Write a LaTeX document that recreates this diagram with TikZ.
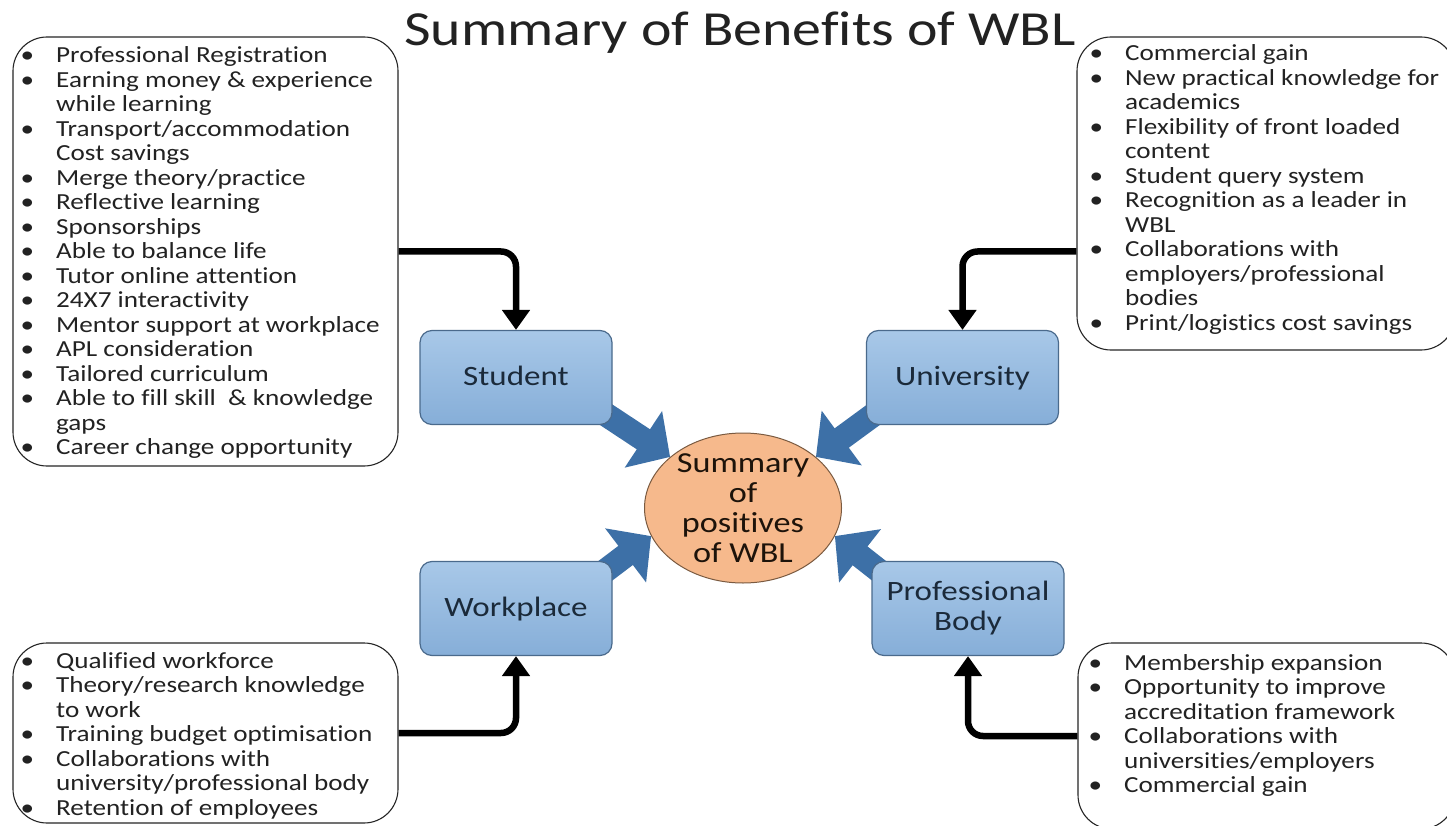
\documentclass[tikz,border=0pt]{standalone}
\usepackage{fontspec}
\setmainfont{Carlito}[FakeStretch=1.18,Ligatures=NoCommon]
\usetikzlibrary{shapes.geometric,arrows.meta,calc,backgrounds}
\pgfdeclarelayer{bottom}
\pgfsetlayers{bottom,background,main}
\definecolor{boxfillT}{HTML}{A8C8E8}
\definecolor{boxfillB}{HTML}{86AED8}
\definecolor{boxedge}{HTML}{4A6A8C}
\definecolor{arrblue}{HTML}{3D70A7}
\definecolor{circfill}{HTML}{F6B98C}
\definecolor{circedge}{HTML}{7A5A40}
\definecolor{txt}{HTML}{222222}
\definecolor{navytxt}{HTML}{1B2A3A}
\newcommand{\bul}{\leavevmode\llap{\textbullet\hskip 22pt}}
\begin{document}
\begin{tikzpicture}[x=1pt,y=-1pt,
  listbox/.style={draw=black!85, line width=1.1pt, rounded corners=34pt, inner sep=0pt},
  listtext/.style={anchor=base west, inner sep=0pt, text=txt, font=\fontsize{23}{24.5}\selectfont},
  rolebox/.style={draw=boxedge, line width=1.2pt, rounded corners=12pt, top color=boxfillT, bottom color=boxfillB, minimum width=192pt, minimum height=94pt, inner sep=0pt, align=center, text=navytxt, font=\fontsize{28}{30}\selectfont},
  onerow/.style={text height=18pt, text depth=3pt},
  conn/.style={draw=black, line width=6.5pt, rounded corners=15pt, -{Triangle[length=20pt,width=27pt]}},
  barrow/.style={draw=arrblue, line width=24pt, -{Triangle[length=32pt,width=66pt]}},
]
\begin{pgfonlayer}{bottom}
  \fill[white] (0,0) rectangle (1447,826);
\end{pgfonlayer}
\clip (0,0) rectangle (1447,826);

% title
\node[anchor=base, inner sep=0pt, text=txt, font=\fontsize{49}{52}\selectfont] (title) at (740,46) {Summary of Benefits of WBL};

% list boxes
\node[listbox, minimum width=385pt, minimum height=429pt] (ltbox) at (205.5,251.5) {};
\node[listbox, minimum width=378pt, minimum height=313pt] (rtbox) at (1266,193.5) {};
\node[listbox, minimum width=385pt, minimum height=180pt] (lbbox) at (205.5,733) {};
\node[listbox, minimum width=377pt, minimum height=186pt] (rbbox) at (1266.5,736) {};

\node[listtext] (lttxt) at (56,63) {\parbox[t]{400pt}{\raggedright
\bul Professional Registration\\
\bul Earning money \& experience\\
while learning\\
\bul Transport/accommodation\\
Cost savings\\
\bul Merge theory/practice\\
\bul Reflective learning\\
\bul Sponsorships\\
\bul Able to balance life\\
\bul Tutor online attention\\
\bul 24X7 interactivity\\
\bul Mentor support at workplace\\
\bul APL consideration\\
\bul Tailored curriculum\\
\bul Able to fill skill\ \ \& knowledge\\
gaps\\
\bul Career change opportunity}};

\node[listtext] (rttxt) at (1125,61) {\parbox[t]{400pt}{\raggedright
\bul Commercial gain\\
\bul New practical knowledge for\\
academics\\
\bul Flexibility of front loaded\\
content\\
\bul Student query system\\
\bul Recognition as a leader in\\
WBL\\
\bul Collaborations with\\
employers/professional\\
bodies\\
\bul Print/logistics cost savings}};

\node[listtext] (lbtxt) at (56,668) {\parbox[t]{400pt}{\raggedright
\bul Qualified workforce\\
\bul Theory/research knowledge\\
to work\\
\bul Training budget optimisation\\
\bul Collaborations with\\
university/professional body\\
\bul Retention of employees}};

\node[listtext] (rbtxt) at (1124,670) {\parbox[t]{400pt}{\raggedright
\bul Membership expansion\\
\bul Opportunity to improve\\
accreditation framework\\
\bul Collaborations with\\
universities/employers\\
\bul Commercial gain}};

% role boxes
\node[rolebox, onerow] (student) at (516,377.5) {Student};
\node[rolebox, onerow] (univ) at (962.5,377.5) {University};
\node[rolebox, onerow] (work) at (516,608.5) {Workplace};
\node[rolebox] (prof) at (968,608.5) {Professional\\Body};

% centre ellipse and block arrows behind the boxes
\begin{pgfonlayer}{background}
  \node[ellipse, draw=circedge, line width=1pt, fill=circfill, minimum width=197pt, minimum height=150pt, inner sep=0pt] (circ) at (743,508) {};
  \draw[barrow] ($(student.south east)+(-18,-18)$) -- (circ.145);
  \draw[barrow] ($(univ.south west)+(18,-18)$) -- (circ.35);
  \draw[barrow] ($(work.north east)+(-18,18)$) -- (circ.197);
  \draw[barrow] ($(prof.north west)+(18,18)$) -- (circ.343);
\end{pgfonlayer}
\node[align=center, inner sep=0pt, text=black!85!brown, font=\fontsize{29}{30}\selectfont] (ctext) at (743,508) {Summary\\of\\positives\\of WBL};

% black connectors
\draw[conn] (ltbox.east) -| (student.north);
\draw[conn] (ltbox.east -| rtbox.west) -| (univ.north);
\draw[conn] (lbbox.east) -| (work.south);
\draw[conn] (rbbox.west) -| (prof.south);
\end{tikzpicture}
\end{document}
